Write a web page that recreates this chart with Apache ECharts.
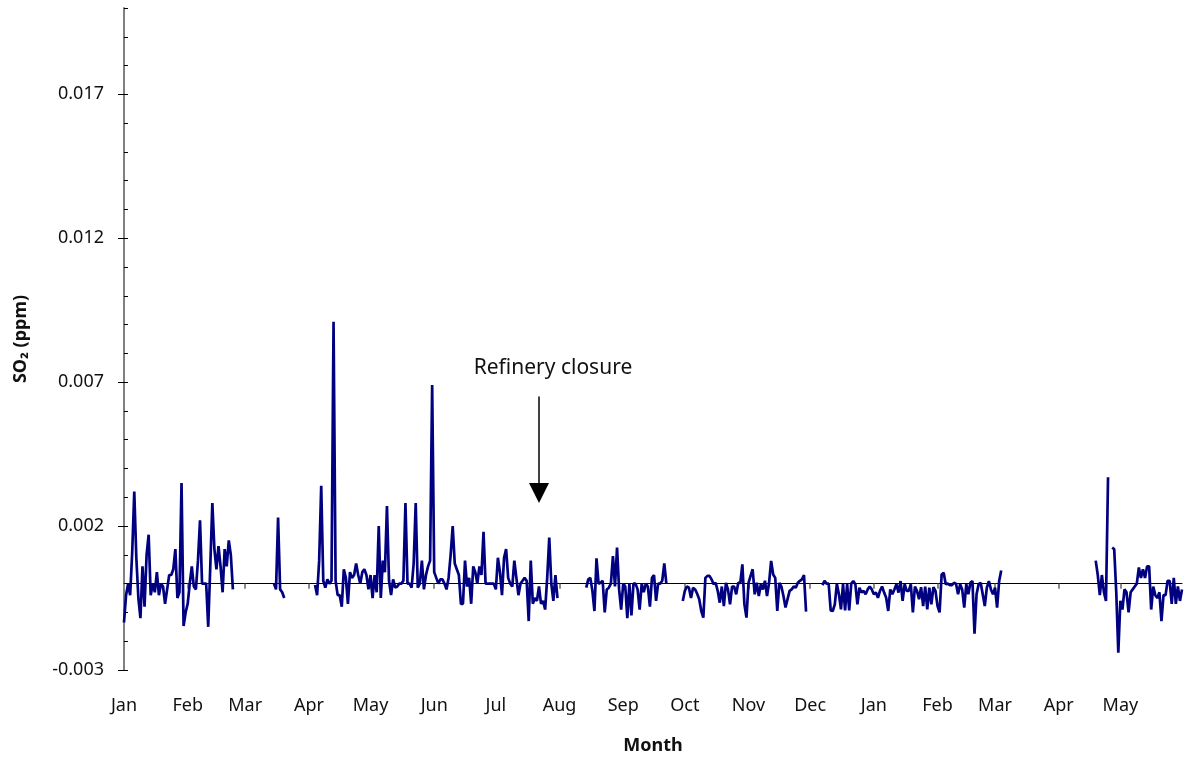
<!DOCTYPE html>
<html>
<head>
<meta charset="utf-8">
<script src="https://cdn.jsdelivr.net/npm/echarts@6/dist/echarts.min.js"></script>
<style>
  html, body { margin: 0; padding: 0; background: #fff; }
  #chart { width: 1186px; height: 760px; }
</style>
</head>
<body>
<div id="chart"></div>
<script>
const _ = null

// month axis, Jan of year 1 to May of year 2
const MONTHS = ['Jan', 'Feb', 'Mar', 'Apr', 'May', 'Jun', 'Jul', 'Aug', 'Sep', 'Oct', 'Nov', 'Dec', 'Jan', 'Feb', 'Mar', 'Apr', 'May']
const MONTH_DAYS = [31, 28, 31, 30, 31, 30, 31, 31, 30, 31, 30, 31, 31, 28, 31, 30, 31]
const MAJOR_TICKS = [-0.003, 0.002, 0.007, 0.012, 0.017]

// daily SO2 (ppm), one array per month, null = no data
const jan1 = [-0.00135, -0.0004, 0, -0.0004, 0.0011, 0.0032, 0.0009, -0.0005, -0.0012, 0.0006, -0.0008, 0.001, 0.0017, -0.0004, 0, -0.0003, 0.0004, -0.0004, 0, -0.0001, -0.0007, -0.0002, 0.0003, 0.0003, 0.0005, 0.0012, -0.0005, -0.0003, 0.0035, -0.00147, -0.001]
const feb1 = [-0.0007, 0, 0.0006, -0.0001, -0.0002, 0.0008, 0.0022, 0, 0, 0, -0.0015, 0.0006, 0.0028, 0.0012, 0.0005, 0.0013, 0.0006, -0.0003, 0.0012, 0.0006, 0.0015, 0.001, -0.0002, _, _, _, _, _]
const mar1 = [_, _, _, _, _, _, _, _, _, _, _, _, _, _, 0, -0.0002, 0.0023, -0.0002, -0.0003, -0.0005, _, _, _, _, _, _, _, _, _, _, _]
const apr1 = [_, _, _, -0.00005, -0.0004, 0.0008, 0.0034, 0.0001, -0.00014, 0.00015, 0, 0.0001, 0.0091, 0.0001, -0.0004, -0.0004, -0.0008, 0.0005, 0.0002, -0.0007, 0.0004, 0.0002, 0.0003, 0.0007, 0.0003, 0, 0.0004, 0.0005, 0.0003, -0.0002]
const may1 = [0.0003, -0.0005, 0.0003, -0.0003, 0.002, -0.0005, 0.0008, 0.0004, 0.0027, 0.0001, -0.0004, 0.00015, -0.00014, -0.0001, 0, 0, 0.0001, 0.0028, 0, 0, -0.00014, 0.0007, 0.0028, -0.00014, 0, 0.0008, -0.0002, 0.0003, 0.0006, 0.0008, 0.0069]
const jun1 = [0.0004, 0.0002, 0, 0.00015, 0.00015, 0, -0.0002, 0.0002, 0.001, 0.002, 0.0007, 0.0005, 0.0003, -0.0007, -0.0007, 0.0008, -0.0001, 0.0002, -0.0007, 0.0006, 0.0004, 0, 0.0006, 0.0003, 0.0018, 0, 0, 0, 0, 0]
const jul1 = [-0.0002, 0.0009, 0.0004, -0.0004, 0.0009, 0.0012, 0.0002, 0, -0.0001, 0.0008, 0.0002, -0.0004, 0, 0.0001, 0.0002, 0.0001, -0.0013, 0.0008, -0.0007, -0.0005, -0.0006, -0.0001, -0.0007, -0.0006, -0.0009, 0.0002, 0.0016, 0, -0.0006, 0.0003, -0.0005]
const aug1 = [_, _, _, _, _, _, _, _, _, _, _, _, _, -0.00014, 0.00015, 0.0002, -0.00025, -0.00095, 0.00088, 0, 0.00003, 0.0001, -0.001, -0.0002, -0.00014, 0, 0.00096, -0.0001, 0.00125, -0.0002, -0.0009]
const sep1 = [0, -0.0001, -0.0012, 0, -0.0011, 0, 0, -0.0002, -0.0009, 0, -0.0003, 0, -0.0001, -0.0008, 0.0002, 0.0003, -0.0006, 0, 0, 0.0001, 0.0007, 0, _, _, _, _, _, _, _, -0.0006]
const oct1 = [-0.00025, -0.0001, -0.00014, -0.0005, -0.00014, -0.0002, -0.00035, -0.00054, -0.00095, -0.00118, 0.0002, 0.00027, 0.00027, 0.00015, -0.00002, 0.00003, -0.00025, -0.00066, -0.0001, -0.00078, 0.00003, -0.0002, -0.00072, -0.0001, -0.0001, -0.00037, 0.00003, 0.00003, 0.00067, -0.00072, -0.00118]
const nov1 = [0.00003, 0.00027, 0.0005, -0.00037, 0.00003, -0.00043, -0.00002, -0.0002, 0.0001, -0.00043, 0.00003, 0.00079, 0.00032, 0.0002, -0.00095, 0.00003, -0.0001, -0.00043, -0.00083, -0.00054, -0.00025, -0.0002, -0.0001, -0.00014, 0.00003, 0.0001, 0.00015, 0.0003, -0.00097, _]
const dec1 = [_, _, _, _, _, _, -0.00005, 0.0001, 0, 0, -0.00093, -0.00095, -0.00072, 0, -0.00037, -0.00089, -0.00002, -0.00093, -0.00002, -0.00093, 0, 0.00009, -0.00002, -0.00072, -0.00014, -0.00031, -0.00025, -0.00037, -0.0002, -0.0001, -0.0002]
const jan2 = [-0.00037, -0.00031, -0.00049, -0.00025, -0.0001, -0.00031, -0.00049, -0.00095, -0.0002, -0.00037, -0.0002, -0.00002, -0.00031, 0.00009, -0.0006, -0.00002, -0.00025, -0.00025, -0.00002, -0.001, -0.0001, -0.00025, -0.00054, -0.00012, -0.00078, -0.0001, -0.00089, -0.00014, -0.00072, -0.00012, -0.00025]
const feb2 = [-0.00078, -0.001, 0.00032, 0.00038, -0.00002, 0, -0.00005, -0.00005, 0.00003, 0, -0.00037, -0.00002, -0.0002, -0.00083, -0.00002, -0.00037, 0.00003, 0.00009, -0.00174, -0.00037, -0.00002, 0.00003, -0.00037, -0.00078, -0.00014, 0.00009, -0.0002, -0.00037]
const mar2 = [-0.00014, -0.00083, 0.00009, 0.00046, _, _, _, _, _, _, _, _, _, _, _, _, _, _, _, _, _, _, _, _, _, _, _, _, _, _, _]
const apr2 = [_, _, _, _, _, _, _, _, _, _, _, _, _, _, _, _, _, _, 0.0008, 0.0003, -0.0004, 0.0003, -0.0003, -0.0006, 0.0037, _, 0.00125, 0.0012, -0.0003, -0.0024]
const may2 = [-0.0006, -0.0009, -0.0002, -0.0003, -0.001, -0.0003, -0.0002, -0.0001, 0, 0.00056, 0.0002, 0.0005, 0.0002, 0.0006, 0.0006, -0.0009, -0.0001, -0.0004, -0.0005, -0.0003, -0.0013, -0.0004, -0.0004, 0.0001, 0.0001, -0.0007, 0.0002, -0.0007, -0.0001, -0.0006, -0.0002]

// refinery closure arrow (day index, top and tip in ppm)
const CLOSURE_DAY = 202
const CLOSURE_TOP = 0.0065
const CLOSURE_TIP = 0.00315

const so2 = [].concat(jan1, feb1, mar1, apr1, may1, jun1, jul1, aug1, sep1, oct1, nov1, dec1, jan2, feb2, mar2, apr2, may2)

const days = []
const monthStart = {}
MONTHS.forEach((m, mi) => {
  monthStart[days.length] = true
  for (let d = 1; d <= MONTH_DAYS[mi]; d++) {
    days.push(m + ' ' + d + (mi < 12 ? ' Y1' : ' Y2'))
  }
})
const isMonthStart = (i) => !!monthStart[i]

const FONT = 'Noto Sans'

const option = {
  animation: false,
  grid: { left: 124, right: 4, top: 8, bottom: 88 },
  xAxis: [
    {
      type: 'category',
      position: 'bottom',
      data: days,
      boundaryGap: false,
      axisLine: { onZero: true, lineStyle: { color: '#000', width: 1 } },
      axisTick: { show: true, interval: isMonthStart, length: 5, lineStyle: { color: '#8a8a8a', width: 2 } },
      axisLabel: { show: false },
      splitLine: { show: false },
    },
    {
      type: 'category',
      position: 'bottom',
      data: days,
      boundaryGap: false,
      axisLine: { show: false, onZero: false },
      axisTick: { show: false },
      axisLabel: {
        interval: isMonthStart,
        formatter: (v) => v.slice(0, 3),
        margin: 27,
        fontSize: 18,
        fontFamily: FONT,
        color: '#111',
      },
      splitLine: { show: false },
      name: 'Month',
      nameLocation: 'middle',
      nameGap: 67,
      nameTextStyle: { fontFamily: FONT, fontSize: 18, fontWeight: 'bold', color: '#111' },
    },
  ],
  yAxis: [
    {
      type: 'value',
      position: 'left',
      min: -0.003,
      max: 0.02,
      interval: 0.001,
      axisLine: { show: true, lineStyle: { color: '#808080', width: 2 } },
      axisTick: { show: true, inside: true, length: 4, lineStyle: { color: '#000', width: 1 } },
      axisLabel: {
        formatter: (v) => (MAJOR_TICKS.some((m) => Math.abs(m - v) < 1e-9) ? v.toFixed(3) : ''),
        margin: 20,
        fontSize: 18,
        fontFamily: FONT,
        color: '#111',
      },
      splitLine: { show: false },
      name: 'SO₂ (ppm)',
      nameLocation: 'middle',
      nameGap: 94,
      nameTextStyle: { fontFamily: FONT, fontSize: 18, fontWeight: 'bold', color: '#111' },
    },
    {
      type: 'value',
      position: 'left',
      min: -0.003,
      max: 0.02,
      axisLine: { show: false },
      axisTick: { show: true, inside: false, length: 6, customValues: MAJOR_TICKS, lineStyle: { color: '#000', width: 1 } },
      axisLabel: { show: false },
      splitLine: { show: false },
    },
  ],
  series: [
    {
      type: 'line',
      xAxisIndex: 0,
      yAxisIndex: 0,
      data: so2,
      showSymbol: false,
      symbol: 'none',
      connectNulls: false,
      lineStyle: { color: '#000080', width: 2.7 },
      emphasis: { disabled: true },
      markLine: {
        silent: true,
        symbol: ['none', 'triangle'],
        symbolSize: [20, 20],
        lineStyle: { color: '#000', width: 1.5, type: 'solid' },
        label: {
          show: true,
          position: 'start',
          formatter: 'Refinery closure',
          distance: 18,
          padding: [0, 0, 0, 28],
          fontSize: 21,
          fontFamily: FONT,
          color: '#111',
        },
        data: [[{ coord: [days[CLOSURE_DAY], CLOSURE_TOP] }, { coord: [days[CLOSURE_DAY], CLOSURE_TIP] }]],
      },
    },
  ],
}

const myChart = echarts.init(document.getElementById('chart'))
myChart.setOption(option)
</script>
</body>
</html>
